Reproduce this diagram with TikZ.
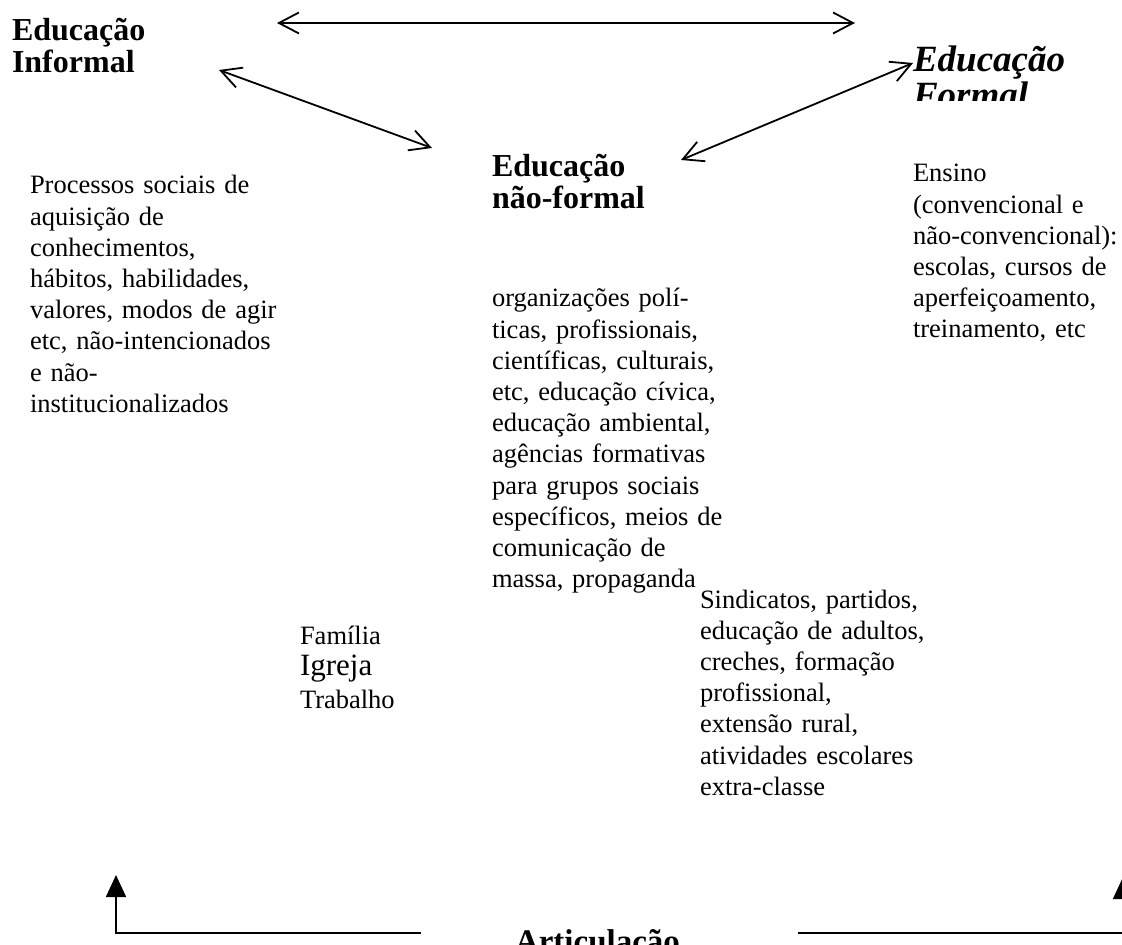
\documentclass[tikz,border=0pt]{standalone}
\usepackage{fontspec}
\setmainfont{Liberation Serif}
\usetikzlibrary{arrows.meta}
\newcommand\bodyfnt{\fontsize{13.25pt}{15.6pt}\selectfont}
\newcommand\headfnt{\bfseries\fontsize{16pt}{16pt}\selectfont}
\newcommand\formfnt{\bfseries\itshape\fontsize{18.5pt}{15.5pt}\selectfont}
\begin{document}
\begin{tikzpicture}[x=0.5pt,y=-0.5pt,
  txt/.style={anchor=base west, inner sep=0pt, outer sep=0pt, text width=250pt, align=left, font=\bodyfnt},
  head/.style={txt, font=\headfnt},
  link/.style={line width=0.9pt, {Straight Barb[length=10pt,width=10.5pt]}-{Straight Barb[length=10pt,width=10.5pt]}},
  bline/.style={line width=0.8pt, -{Triangle[length=11pt,width=10pt]}}
]
\useasboundingbox (0,0) rectangle (1122,945);
\clip (0,0) rectangle (1122,945);
\fill[white] (0,0) rectangle (1122,945);

% headings
\node[head] (inf) at (12,41) {Educação\\Informal};
\begin{scope}
  \clip (880,30) rectangle (1122,101);
  \node[txt, font=\formfnt] (for) at (913,72) {Educação\\Formal};
\end{scope}
\node[head] (nf) at (492,177) {Educação\\não-formal};

% bodies
\node[txt] (infb) at (30,194) {Processos sociais de\\aquisição de\\conhecimentos,\\hábitos, habilidades,\\valores, modos de agir\\etc, não-intencionados\\e não-\\institucionalizados};
\node[txt] (nfb) at (492,307) {organizações polí-\\ticas, profissionais,\\científicas, culturais,\\etc, educação cívica,\\educação ambiental,\\agências formativas\\para grupos sociais\\específicos, meios de\\comunicação de\\massa, propaganda};
\node[txt] (forb) at (913,182) {Ensino\\(convencional e\\não-convencional):\\escolas, cursos de\\aperfeiçoamento,\\treinamento, etc};
\node[txt, text width=100pt] (fam) at (300,644) {Família\par{\fontsize{15.5pt}{15.5pt}\selectfont Igreja\par}{\fontsize{13.25pt}{16.5pt}\selectfont Trabalho\par}};
\node[txt] (sind) at (700,608) {Sindicatos, partidos,\\educação de adultos,\\creches, formação\\profissional,\\extensão rural,\\atividades escolares\\extra-classe};
\node[head, font=\bfseries\fontsize{16.5pt}{18pt}\selectfont] (art) at (515,952) {Articulação};

% connectors
\coordinate (t1) at (277,23);
\coordinate (t2) at (855,23);
\coordinate (a1) at (219,70);
\coordinate (a2) at (432,148);
\coordinate (b1) at (913,63);
\coordinate (b2) at (681,160);
\draw[link] (t1) -- (t2);
\draw[link] (a1) -- (a2);
\draw[link] (b1) -- (b2);

\coordinate (l0) at (421,933);
\coordinate (l1) at (116,933);
\coordinate (l2) at (116,875);
\coordinate (r0) at (798,933);
\coordinate (r1) at (1123,933);
\coordinate (r2) at (1123,877);
\draw[bline] (l0) -- (l1) -- (l2);
\draw[bline] (r0) -- (r1) -- (r2);
\end{tikzpicture}
\end{document}
